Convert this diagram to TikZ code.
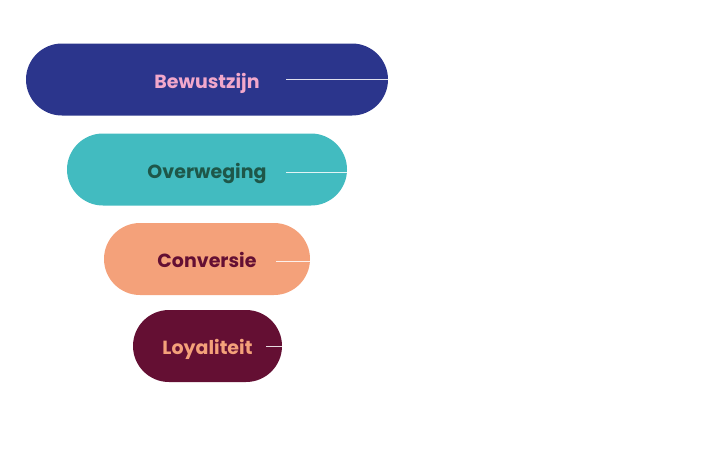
\documentclass[tikz,border=0pt]{standalone}
\usepackage{fontspec}
\setmainfont{Poppins}
\definecolor{funnelblue}{HTML}{2B358C}
\definecolor{funnelteal}{HTML}{42BBC0}
\definecolor{funnelsalmon}{HTML}{F4A17A}
\definecolor{funnelmaroon}{HTML}{640F33}
\definecolor{funnelpink}{HTML}{F2A8CB}
\definecolor{funnelgreen}{HTML}{1E5749}
\tikzset{
  stage/.style={rounded corners=36pt, inner sep=0pt, minimum height=72pt,
    text height=17pt, text depth=0pt,
    font=\bfseries\fontsize{19}{23}\selectfont},
  tick/.style={draw=white, draw opacity=0.85, line width=0.9pt}
}
\begin{document}
\begin{tikzpicture}[x=1pt, y=-1pt]
  \useasboundingbox (0,0) rectangle (720,469);
  % funnel stages, widest at the top
  \node[stage, fill=funnelblue, text=funnelpink, minimum width=362pt] (s1) at (207,79.5) {Bewustzijn};
  \node[stage, fill=funnelteal, text=funnelgreen, minimum width=280pt] (s2) at (207,169.5) {Overweging};
  \node[stage, fill=funnelsalmon, text=funnelmaroon, minimum width=206pt] (s3) at (207,259) {Conversie};
  \node[stage, fill=funnelmaroon, text=funnelsalmon, minimum width=149pt] (s4) at (207.5,346) {Loyaliteit};
  % short leader lines running out to each stage's right edge
  \coordinate (t1) at (286,79);
  \coordinate (t2) at (286,172);
  \coordinate (t3) at (276,261);
  \coordinate (t4) at (266,346);
  \draw[tick] (t1) -- (t1 -| s1.east);
  \draw[tick] (t2) -- (t2 -| s2.east);
  \draw[tick] (t3) -- (t3 -| s3.east);
  \draw[tick] (t4) -- (t4 -| s4.east);
\end{tikzpicture}
\end{document}
